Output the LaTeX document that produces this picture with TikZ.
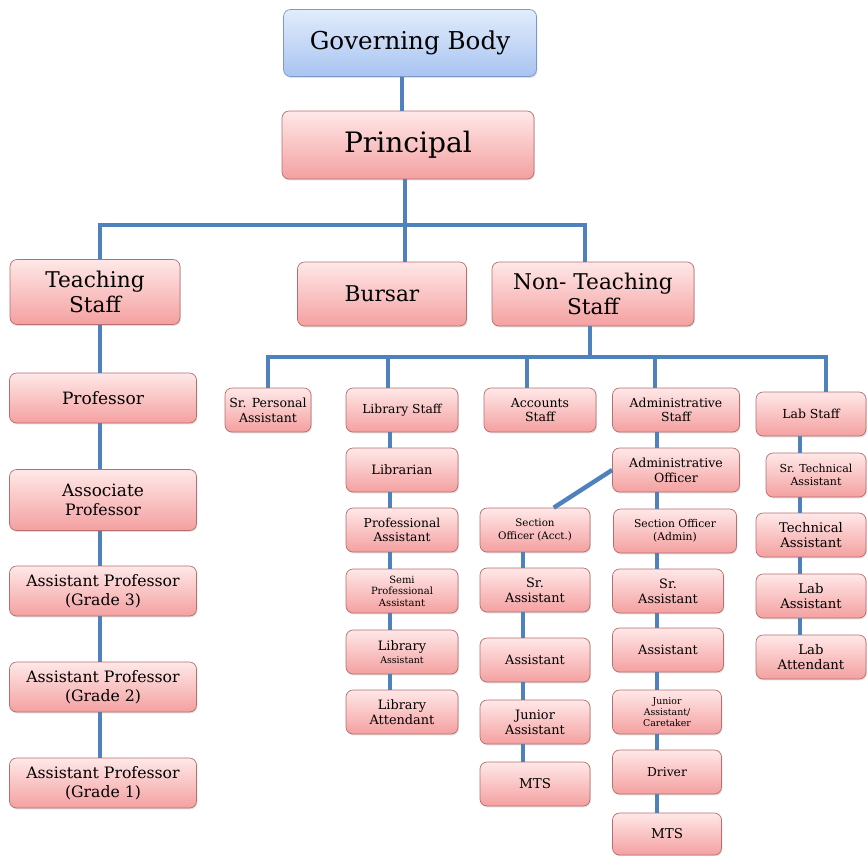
\documentclass[tikz,border=0pt]{standalone}
\usepackage{fontspec}
\setmainfont{DejaVu Serif}
\usetikzlibrary{shadows}
\definecolor{pinktop}{HTML}{FFE8E8}
\definecolor{pinkbot}{HTML}{F4A0A0}
\definecolor{pinkline}{HTML}{B86E6E}
\definecolor{bluetop}{HTML}{E2ECFC}
\definecolor{bluebot}{HTML}{A8C4F1}
\definecolor{blueline}{HTML}{7F98C8}
\definecolor{linkblue}{HTML}{4F81BD}
\newcommand{\px}{0.03cm}
\newcommand{\fs}[2]{\fontsize{#1}{#2}\selectfont}
\tikzset{
  box/.style={rectangle, rounded corners=6pt, draw=pinkline, line width=0.6pt,
    top color=pinktop, bottom color=pinkbot, align=center, inner sep=1pt,
    drop shadow={opacity=0.25, shadow xshift=0.8pt, shadow yshift=-1.2pt}},
  bluebox/.style={box, draw=blueline, top color=bluetop, bottom color=bluebot},
  wh/.style 2 args={minimum width=#1*\px, minimum height=#2*\px},
  link/.style={draw=linkblue, line width=3.8pt}
}
\begin{document}
\begin{tikzpicture}[x=\px, y=-\px]
\useasboundingbox (0,0) rectangle (867,855);
% top levels
\node[bluebox, wh={253}{67}, font=\fs{21}{25}] (gb) at (410,43) {Governing Body};
\node[box, wh={252}{68}, font=\fs{24}{28}] (pr) at (408,145) {Principal};
\node[box, wh={170}{65}, font=\fs{18.5}{22}] (ts) at (95,292) {Teaching\\Staff};
\node[box, wh={169}{64}, font=\fs{18.5}{22}] (bur) at (382,294) {Bursar};
\node[box, wh={202}{64}, font=\fs{18.5}{22}] (nts) at (593,294) {Non- Teaching\\Staff};
% teaching staff
\foreach \n/\y/\h/\t in {prof/398/50/{\fs{14.5}{17}Professor}, asoc/500/61/{\fs{14.5}{17}Associate\\Professor},
    apg3/591/50/{Assistant Professor\\(Grade 3)}, apg2/687/50/{Assistant Professor\\(Grade 2)},
    apg1/783/50/{Assistant Professor\\(Grade 1)}}
{
    \node[box, wh={187}{\h}, font=\fs{13.4}{16}] (\n) at (103,\y) {\t};
}
% non-teaching staff, first row
\node[box, wh={86}{44}, font=\fs{10.7}{12.5}] (psa) at (268,410) {Sr. Personal\\Assistant};
\node[box, wh={112}{44}, font=\fs{10.5}{12.5}] (lst) at (402,410) {Library Staff};
\node[box, wh={112}{44}, font=\fs{10.7}{12.5}] (acc) at (540,410) {Accounts\\Staff};
\node[box, wh={127}{44}, font=\fs{10.6}{12.5}] (ads) at (676,410) {Administrative\\Staff};
\node[box, wh={110}{44}, font=\fs{10.6}{12.5}] (lab) at (811,414) {Lab Staff};
% library
\node[box, wh={112}{44}, font=\fs{11}{13}] (lib) at (402,470) {Librarian};
\node[box, wh={112}{44}, font=\fs{10.5}{12.5}] (pra) at (402,530) {Professional\\Assistant};
\node[box, wh={112}{44}, font=\fs{8.5}{9.8}] (sema) at (402,591) {Semi\\Professional\\Assistant};
\node[box, wh={112}{44}, font=\fs{11}{11}] (lasst) at (402,652) {Library\\{\fs{8}{9.5}Assistant}};
\node[box, wh={112}{44}, font=\fs{11}{13}] (latt) at (402,712) {Library\\Attendant};
% accounts
\node[box, wh={110}{44}, font=\fs{8.8}{11}] (soa) at (535,530) {Section\\Officer (Acct.)};
\node[box, wh={110}{44}, font=\fs{11}{13}] (asr) at (535,590) {Sr.\\Assistant};
\node[box, wh={110}{44}, font=\fs{11}{13}] (aas) at (535,660) {Assistant};
\node[box, wh={110}{44}, font=\fs{11}{13}] (aja) at (535,722) {Junior\\Assistant};
\node[box, wh={110}{44}, font=\fs{11.5}{13}] (amts) at (535,784) {MTS};
% administration
\node[box, wh={127}{44}, font=\fs{10.7}{12.8}] (ao) at (676,470) {Administrative\\Officer};
\node[box, wh={123}{44}, font=\fs{9.2}{11}] (sod) at (675,531) {Section Officer\\(Admin)};
\node[box, wh={111}{44}, font=\fs{11}{13}] (dsr) at (668,591) {Sr.\\Assistant};
\node[box, wh={111}{44}, font=\fs{11}{13}] (das) at (668,650) {Assistant};
\node[box, wh={109}{44}, font=\fs{8}{9.5}] (dja) at (667,712) {Junior\\Assistant/\\Caretaker};
\node[box, wh={109}{44}, font=\fs{10.5}{12.5}] (drv) at (667,772) {Driver};
\node[box, wh={109}{42}, font=\fs{11.5}{13}] (dmts) at (667,834) {MTS};
% lab
\node[box, wh={100}{44}, font=\fs{9.4}{11.5}] (sta) at (816,475) {Sr. Technical\\Assistant};
\foreach \n/\y/\t in {tas/535/{Technical\\Assistant}, las/596/{Lab\\Assistant}, lat/657/{Lab\\Attendant}}
{
    \node[box, wh={110}{44}, font=\fs{11.3}{13.3}] (\n) at (811,\y) {\t};
}
% connectors
\coordinate (tbar) at (0,225);
\coordinate (nbar) at (0,357);
\draw[link] ([xshift=-8*\px]gb.south) -- ([xshift=-8*\px]gb.south |- pr.north);
\draw[link] ([xshift=-3*\px]pr.south) -- ([xshift=-3*\px]pr.south |- bur.north);
\draw[link] ([xshift=5*\px]ts.north) |- ([xshift=-8*\px]nts.north |- tbar) -- ([xshift=-8*\px]nts.north);
\draw[link] ([xshift=-3*\px]nts.south) -- ([xshift=-3*\px]nts.south |- nbar);
\draw[link] (psa.north) |- ([xshift=15*\px]lab.north |- nbar) -- ([xshift=15*\px]lab.north);
\foreach \n/\o in {lst/-14, acc/-13, ads/-21}
{
    \draw[link] ([xshift=\o*\px]\n.north) -- ([xshift=\o*\px]\n.north |- nbar);
}
\draw[link] ([xshift=5*\px]ts.south) -- ([xshift=-3*\px]prof.north);
\foreach \a/\b in {prof/asoc, asoc/apg3, apg3/apg2, apg2/apg1}
{
    \draw[link] ([xshift=-3*\px]\a.south) -- ([xshift=-3*\px]\b.north);
}
\foreach \a/\b in {lst/lib, lib/pra, pra/sema, sema/lasst, lasst/latt}
{
    \draw[link] ([xshift=-12*\px]\a.south) -- ([xshift=-12*\px]\b.north);
}
\foreach \a/\b in {soa/asr, asr/aas, aas/aja, aja/amts}
{
    \draw[link] ([xshift=-12*\px]\a.south) -- ([xshift=-12*\px]\b.north);
}
\foreach \a/\b in {ads/ao, ao/sod, sod/dsr, dsr/das, das/dja, dja/drv, drv/dmts}
{
    \draw[link] ([xshift=-19*\px]\a.south -| ads.south) -- ([xshift=-19*\px]\b.north -| ads.north);
}
\foreach \a/\b in {lab/sta, sta/tas, tas/las, las/lat}
{
    \draw[link] ([xshift=-11*\px]\a.south -| lab.south) -- ([xshift=-11*\px]\b.north -| lab.north);
}
\draw[link] (ao.west) -- (soa.50);
\end{tikzpicture}
\end{document}
